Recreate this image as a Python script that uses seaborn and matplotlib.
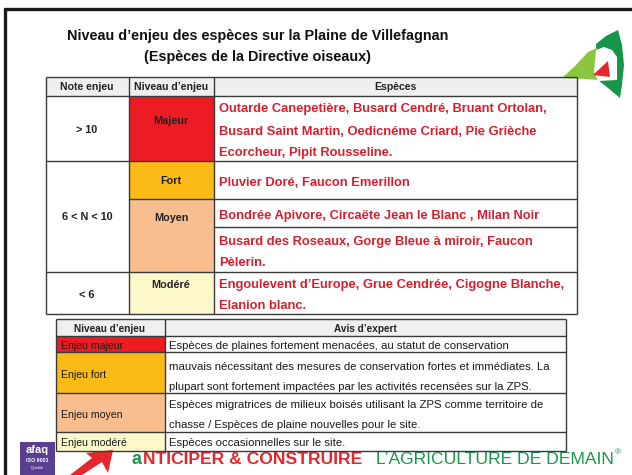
import matplotlib
matplotlib.use("Agg")
import matplotlib.pyplot as plt
from matplotlib.patches import Rectangle, Polygon
import seaborn as sns

# --- content -------------------------------------------------------------
title_lines = ["Niveau d\u2019enjeu des esp\u00e8ces sur la Plaine de Villefagnan",
               "(Esp\u00e8ces de la Directive oiseaux)"]

top_headers = ["Note enjeu", "Niveau d\u2019enjeu", "Esp\u00e8ces"]
notes = ["> 10", "6 < N < 10", "< 6"]
niveaux = ["Majeur", "Fort", "Moyen", "Mod\u00e9r\u00e9"]
especes = [
    ["Outarde Canepeti\u00e8re, Busard Cendr\u00e9, Bruant Ortolan,",
     "Busard Saint Martin, Oedicn\u00e9me Criard, Pie Gri\u00e8che",
     "Ecorcheur, Pipit Rousseline."],
    ["Pluvier Dor\u00e9, Faucon Emerillon"],
    ["Bondr\u00e9e Apivore, Circa\u00ebte Jean le Blanc , Milan Noir"],
    ["Busard des Roseaux, Gorge Bleue \u00e0 miroir, Faucon",
     "P\u00e8lerin."],
    ["Engoulevent d\u2019Europe, Grue Cendr\u00e9e, Cigogne Blanche,",
     "Elanion blanc."],
]

bottom_headers = ["Niveau d\u2019enjeu", "Avis d\u2019expert"]
enjeux = ["Enjeu majeur", "Enjeu fort", "Enjeu moyen", "Enjeu mod\u00e9r\u00e9"]
avis = [
    ["Esp\u00e8ces de plaines fortement menac\u00e9es, au statut de conservation",
     "mauvais n\u00e9cessitant des mesures de conservation fortes et imm\u00e9diates. La",
     "plupart sont fortement impact\u00e9es par les activit\u00e9s recens\u00e9es sur la ZPS."],
    ["Esp\u00e8ces migratrices de milieux bois\u00e9s utilisant la ZPS comme territoire de",
     "chasse / Esp\u00e8ces de plaine nouvelles pour le site."],
    ["Esp\u00e8ces occasionnelles sur le site."],
]

# --- style ---------------------------------------------------------------
level_colors = ["#ED1C24", "#FBBA16", "#F8BE8F", "#FCF8C9"]
header_bg = "#EFEFEF"
edge = "#3a3a3a"
red_txt = "#D81E2C"

sns.set_theme(style="white")
plt.rcParams["font.family"] = ["Liberation Sans", "DejaVu Sans"]

fig = plt.figure(figsize=(6.32, 4.75), dpi=100)
ax = fig.add_axes([0, 0, 1, 1])
ax.set_xlim(0, 632)
ax.set_ylim(475, 0)
ax.axis("off")


def cell(x0, y0, x1, y1, color):
    ax.add_patch(Rectangle((x0, y0), x1 - x0, y1 - y0, facecolor=color,
                           edgecolor="none", zorder=1))


def hline(y, x0, x1, lw=1.0):
    ax.plot([x0, x1], [y, y], color=edge, lw=lw, zorder=3, solid_capstyle="butt")


def vline(x, y0, y1, lw=1.0):
    ax.plot([x, x], [y0, y1], color=edge, lw=lw, zorder=3, solid_capstyle="butt")


def shape(pts, color):
    ax.add_patch(Polygon(pts, closed=True, facecolor=color,
                         edgecolor="none", zorder=2))


# outer frame of the slide
ax.plot([5, 632], [9, 9], color="#1a1a1a", lw=2.4, zorder=3)
ax.plot([5, 5], [9, 475], color="#1a1a1a", lw=2.4, zorder=3)

# title
for y, t in zip([36, 57], title_lines):
    ax.text(258, y, t, ha="center", va="center", fontsize=10.4,
            fontweight="bold", color="#111")

# --- upper table ---------------------------------------------------------
cx = [46, 129, 214, 577]
cell(46, 77, 577, 96, header_bg)
cell(129, 96, 214, 161, level_colors[0])
cell(129, 161, 214, 199, level_colors[1])
cell(129, 199, 214, 272, level_colors[2])
cell(129, 272, 214, 314, level_colors[3])

for x in cx:
    vline(x, 77, 314)
for y in [77, 96, 161, 272, 314]:
    hline(y, 46, 577)
hline(199, 129, 577)
hline(227, 214, 577)

for x, h in zip([87, 171, 395], top_headers):
    ax.text(x, 86.5, h, ha="center", va="center", fontsize=7.6,
            fontweight="bold", color="#222")

for y, n in zip([130, 217, 295], notes):
    ax.text(87, y, n, ha="center", va="center", fontsize=7.8,
            fontweight="bold", color="#222")
for y, n in zip([121, 181, 218, 285], niveaux):
    ax.text(171, y, n, ha="center", va="center", fontsize=7.8,
            fontweight="bold", color="#222")

species_y = [[109, 132, 153], [183], [216], [242, 263], [285, 306]]
for ys, lines in zip(species_y, especes):
    for y, t in zip(ys, lines):
        ax.text(219, y, t, ha="left", va="center", fontsize=9.3,
                fontweight="bold", color=red_txt)

# --- lower table ---------------------------------------------------------
bx = [56, 165, 566]
by = [319, 336, 352, 393, 432, 451]
cell(56, 319, 566, 336, header_bg)
for i, c in enumerate(level_colors):
    cell(56, by[i + 1], 165, by[i + 2], c)
for x in bx:
    vline(x, 319, 451)
for y in by:
    hline(y, 56, 566)

for x, h in zip([110, 365], bottom_headers):
    ax.text(x, 328.5, h, ha="center", va="center", fontsize=7.2,
            fontweight="bold", color="#222")
for y, t in zip([346, 375, 415, 443], enjeux):
    ax.text(61, y, t, ha="left", va="center", fontsize=7.6, color="#1a1a1a")

avis_y = [[346, 367, 387], [405, 425], [443]]
for ys, lines in zip(avis_y, avis):
    for y, t in zip(ys, lines):
        ax.text(169, y, t, ha="left", va="center", fontsize=8.2,
                color="#1a1a1a")

# --- logos / banner ------------------------------------------------------
shape([(596, 44), (606, 36), (618, 30), (622, 45), (624, 65), (622, 85),
       (620, 98), (608, 88), (598, 80)], "#17964A")
shape([(562, 78), (575, 66), (588, 52), (597, 48), (598, 80), (585, 79)],
      "#8CC63F")
shape([(596, 50), (604, 47), (612, 50), (617, 57), (617, 80), (598, 81),
       (594, 72)], "white")
shape([(593, 75), (608, 61), (610, 77)], "#E5262C")

shape([(70, 475), (92, 458), (86, 453), (113, 450), (108, 473), (102, 462),
       (82, 475)], "#E5262C")
ax.add_patch(Rectangle((20, 442), 35, 33, facecolor="#5A3F8E",
                       edgecolor="none", zorder=2))
ax.text(37.5, 450, "afaq", ha="center", va="center", fontsize=8,
        fontweight="bold", color="white", zorder=4)
ax.text(37.5, 461, "ISO 9001", ha="center", va="center", fontsize=3.8,
        fontweight="bold", color="white", zorder=4)
ax.text(37.5, 468, "Qualit\u00e9", ha="center", va="center", fontsize=3,
        color="white", zorder=4)

ax.text(142, 464, "a", ha="right", va="baseline", fontsize=13,
        fontweight="bold", color="#17964A", zorder=2)
ax.text(362, 464, "NTICIPER & CONSTRUIRE", ha="right", va="baseline",
        fontsize=12.6, fontweight="bold", color="#E5262C", zorder=2)
ax.text(376, 464, "L\u2019AGRICULTURE DE DEMAIN", ha="left",
        va="baseline", fontsize=12.6, color="#17964A", zorder=2)
ax.text(618, 453, "\u00ae", ha="center", va="center", fontsize=6,
        color="#17964A", zorder=2)

fig.savefig("out.png", dpi=100)
